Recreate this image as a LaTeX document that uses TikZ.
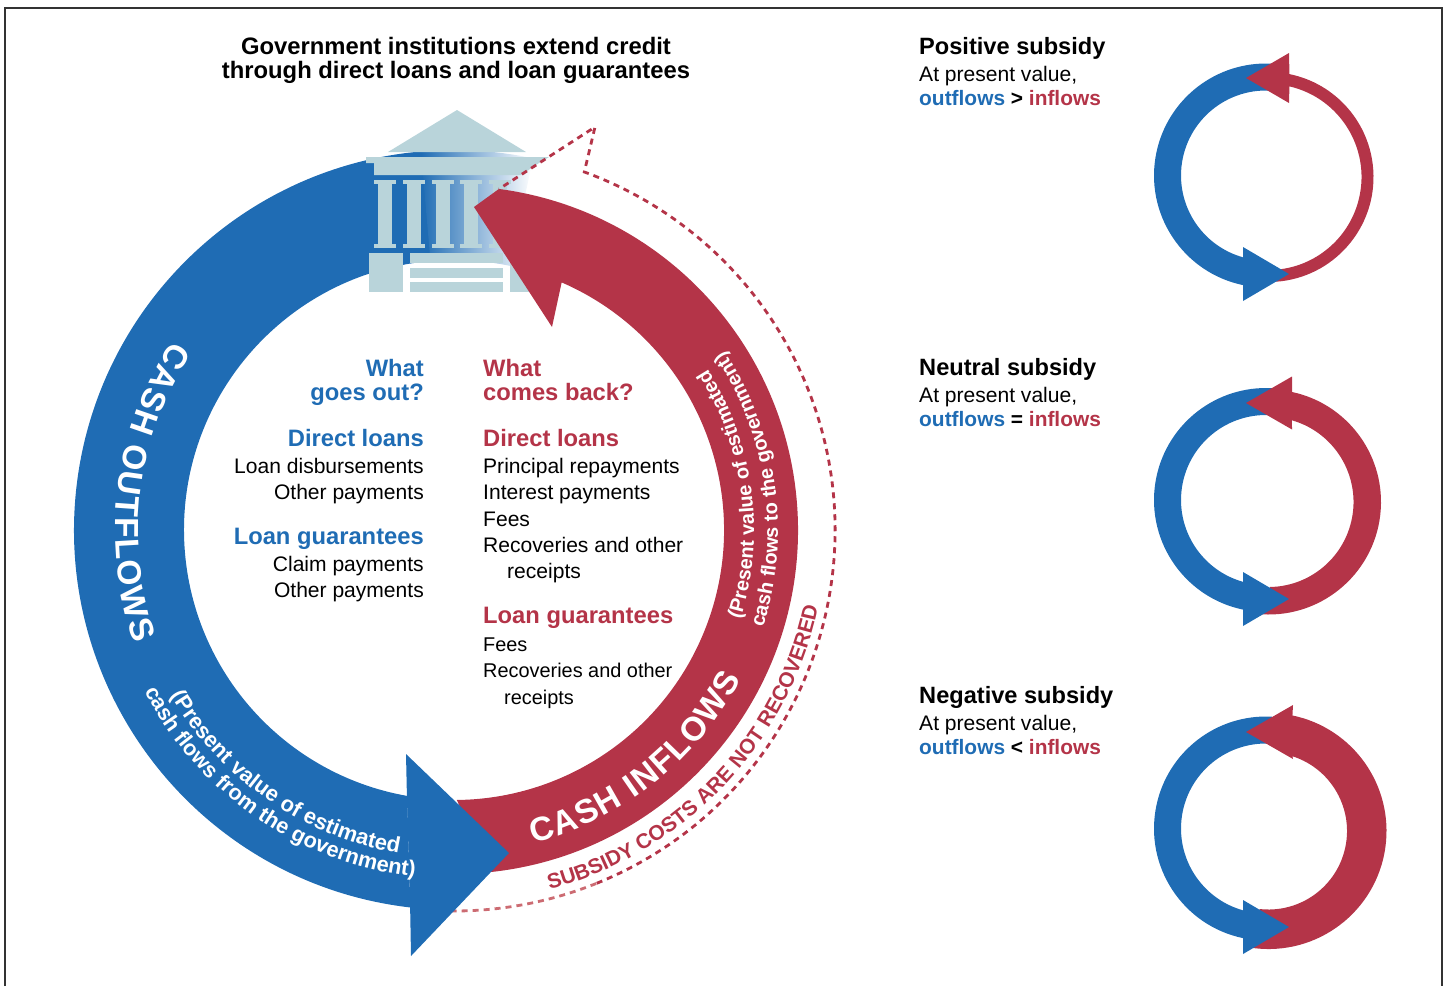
\documentclass[tikz,border=0pt]{standalone}
\usepackage{fontspec}
\setmainfont{Liberation Sans}
\usetikzlibrary{decorations.text}
\definecolor{bluec}{HTML}{1F6CB4}
\definecolor{midc}{HTML}{A3B4DD}
\definecolor{redc}{HTML}{B43448}
\definecolor{dashc}{HTML}{CC6B72}
\definecolor{bldg}{HTML}{B9D4DA}
\tikzset{
    ringc/.style={shift={#1},y=1pt},
    lab/.style={inner sep=0pt,font=\fontsize{21.05}{24}\selectfont},
    labr/.style={lab,anchor=base east},
    labl/.style={lab,anchor=base west},
    labs/.style={labl,font=\fontsize{19.9}{24}\selectfont},
    headb/.style={inner sep=0pt,text=bluec,anchor=base east,font=\fontsize{23.75}{24}\selectfont\bfseries},
    headr/.style={inner sep=0pt,text=redc,anchor=base west,font=\fontsize{23.75}{24}\selectfont\bfseries},
    capt/.style={inner sep=0pt,anchor=base west,font=\fontsize{23.6}{24}\selectfont\bfseries},
    dashl/.style={line width=2.8pt,dash pattern=on 6pt off 5pt},
    bend text/.style={decorate,decoration={text along path,text align=center,text={#1}}},
    fit text/.style={decorate,decoration={text along path,text align={fit to path},text={#1}}}
}
\newcommand{\wtext}[1]{|\bfseries\fontsize{#1}{#1}\selectfont\color{white}|}
\begin{document}
\begin{tikzpicture}[x=1pt,y=-1pt]
    \useasboundingbox (0,0) rectangle (1447,986);
    \draw[line width=1.2pt,black!80] (5,986) -- (5,8) -- (1442,8) -- (1442,986);
    \node[inner sep=0pt,align=center,font=\fontsize{23.8}{24}\selectfont\bfseries] (title) at (456,60)
        {Government institutions extend credit\\through direct loans and loan guarantees};
    % main ring
    \coordinate (bTipUp) at (406,754);
    \coordinate (bTip) at (509,853);
    \coordinate (bTipDn) at (411,956);
    \coordinate (rBarbUp) at (499,189);
    \coordinate (rTip) at (474,207);
    \coordinate (rBarbDn) at (552,327);
    \coordinate (dashA) at (595,127);
    \begin{scope}[ringc={(454,530)}]
    \fill[bluec] (263.4:380) arc[start angle=263.4,end angle=94,radius=380]
        -- (94:270) arc[start angle=94,end angle=260,radius=270] -- cycle;
    \shade[left color=bluec,middle color=midc,right color=white]
        (95:380) arc[start angle=95,end angle=78,radius=380]
        -- (78:270) arc[start angle=78,end angle=95,radius=270] -- cycle;
    \end{scope}
    % building
    \fill[bldg] (457,110) -- (526,152) -- (388,152) -- cycle;
    \fill[bldg] (366,157) -- (549,157) -- (539,163) -- (521,175) -- (374,175) -- (374,163) -- (366,163) -- cycle;
    \foreach \cx in {374,403,432,460,489}{
        \fill[bldg] (\cx,180) rectangle ++(22,4);
        \fill[bldg] (\cx+4,180) rectangle ++(14,68);
        \fill[bldg] (\cx,244) rectangle ++(22,4);
    }
    \fill[bldg] (369,253) rectangle (403,292);
    \fill[bldg] (510,253) rectangle (544,292);
    \fill[bldg] (410,253) rectangle (503,263);
    \fill[bldg] (410,268) rectangle (503,278);
    \fill[bldg] (410,282) rectangle (503,292);
    \begin{scope}[ringc={(454,530)}]
    \fill[redc] (-84:344) arc[start angle=-84,end angle=82.5,radius=344]
        -- (rTip) -- (rBarbDn)
        -- (66.5:270) arc[start angle=66.5,end angle=-89.4,radius=270] -- cycle;
    \draw[dashl,dashc] (-90.5:381) arc[start angle=-90.5,end angle=-68,radius=381];
    \draw[dashl,redc] (-68:381) arc[start angle=-68,end angle=70,radius=381] -- (dashA) -- (rBarbUp);
    \end{scope}
    \fill[bluec] (bTipUp) -- (bTip) -- (bTipDn) -- (410,900) -- (407,800) -- cycle;
    \begin{scope}[ringc={(454,530)}]
    \path[fit text={\wtext{33.5}CASH OUTFLOWS}] (146:339) arc[start angle=146,end angle=199.5,radius=339];
    \path[bend text={\wtext{22}(Present value of estimated}] (200:328) arc[start angle=200,end angle=270.6,radius=328];
    \path[bend text={\wtext{21.7}cash flows from the government)}] (197:349) arc[start angle=197,end angle=274,radius=349];
    \path[fit text={\wtext{33.5}CASH INFLOWS}] (284.2:323) arc[start angle=284.2,end angle=332.6,radius=323];
    \path[bend text={\wtext{20}(Present value of estimated}] (-28:300) arc[start angle=-28,end angle=43,radius=300];
    \path[bend text={\wtext{20}cash flows to the government)}] (-28:324) arc[start angle=-28,end angle=44,radius=324];
    \path[bend text={|\bfseries\fontsize{21}{21}\selectfont\color{redc}|SUBSIDY COSTS ARE NOT RECOVERED}] (273.5:372) arc[start angle=273.5,end angle=359.5,radius=372];
    \end{scope}
    % what goes out
    \node[headb] (outA) at (424,376) {What};
    \node[headb] (outB) at (424,400) {goes out?};
    \node[headb] (outC) at (424,446) {Direct loans};
    \node[labr] (outD) at (424,473) {Loan disbursements};
    \node[labr] (outE) at (424,499) {Other payments};
    \node[headb] (outF) at (424,544) {Loan guarantees};
    \node[labr] (outG) at (424,571) {Claim payments};
    \node[labr] (outH) at (424,597) {Other payments};
    % what comes back
    \node[headr] (backA) at (483,376) {What};
    \node[headr] (backB) at (483,400) {comes back?};
    \node[headr] (backC) at (483,446) {Direct loans};
    \node[labl] (backD) at (483,473) {Principal repayments};
    \node[labl] (backE) at (483,499) {Interest payments};
    \node[labl] (backF) at (483,526) {Fees};
    \node[labl] (backG) at (483,552) {Recoveries and other};
    \node[labl] (backH) at (507,578) {receipts};
    \node[headr] (backI) at (483,623) {Loan guarantees};
    \node[labs] (backJ) at (483,651) {Fees};
    \node[labs] (backK) at (483,677) {Recoveries and other};
    \node[labs] (backL) at (504,704) {receipts};
    % captions
    \foreach \ty/\tname/\tsign in {54/Positive/>,375/Neutral/=,703/Negative/<}{
        \node[capt] (cap\tname) at (919,\ty) {\tname\ subsidy};
        \node[labl] (val\tname) at (919,\ty+27) {At present value,};
        \node[labl,font=\fontsize{20.9}{24}\selectfont\bfseries] (cmp\tname) at (919,\ty+51)
            {\textcolor{bluec}{outflows} \tsign\ \textcolor{redc}{inflows}};
    }
    % small rings
    \foreach \cb/\cr/\Ro/\Ri/\nx/\ao/\ai/\to/\ti/\rh/\bt/\rt in {
        175.5/177/105/93/1289/78.5/77/-86.2/-82.6/25/274/78,
        500/502/112.5/85/1292/77.9/74/-93.3/-89/26.5/599/403,
        828.5/831/118/78.5/1293/78.3/72.2/-97.8/-96.5/27/927/732}{
        \coordinate (sbUp) at (1243,\bt-27);
        \coordinate (sbTip) at (1289,\bt);
        \coordinate (sbDn) at (1243,\bt+27);
        \coordinate (srUp) at (\nx,\rt-\rh);
        \coordinate (srTip) at (1246,\rt);
        \coordinate (srDn) at (\nx,\rt+\rh);
        \begin{scope}[ringc={(1266,\cb)}]
        \fill[bluec] (258.2:112) arc[start angle=258.2,end angle=87,radius=112]
            -- (87:85) arc[start angle=87,end angle=254.3,radius=85] -- cycle;
        \end{scope}
        \begin{scope}[ringc={(1268.5,\cr)}]
        \fill[redc] (\to:\Ro) arc[start angle=\to,end angle=\ao,radius=\Ro]
            -- (srUp) -- (srTip) -- (srDn)
            -- (\ai:\Ri) arc[start angle=\ai,end angle=\ti,radius=\Ri] -- cycle;
        \end{scope}
        \fill[bluec] (sbUp) -- (sbTip) -- (sbDn) -- cycle;
    }
\end{tikzpicture}
\end{document}
